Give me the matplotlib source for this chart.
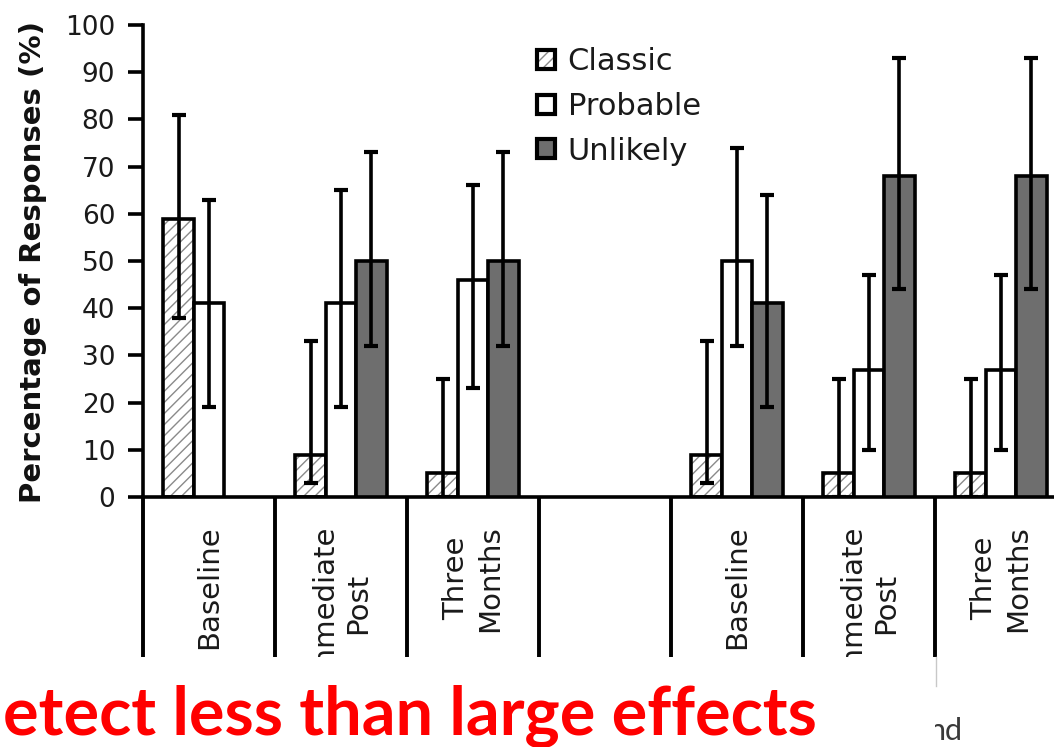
import numpy as np
import matplotlib
matplotlib.use("Agg")
import matplotlib.pyplot as plt
import matplotlib.transforms as mtransforms
from matplotlib.patches import Patch, Rectangle
from matplotlib.lines import Line2D

# ---------------- data ----------------
groups = ["Baseline", "Immediate\nPost", "Three\nMonths", "",
          "Baseline", "Immediate\nPost", "Three\nMonths"]
series = ["Classic", "Probable", "Unlikely"]

classic = [59, 9, 5, np.nan, 9, 5, 5]
classic_lo = [38, 3, 0, np.nan, 3, 0, 0]
classic_hi = [81, 33, 25, np.nan, 33, 25, 25]

probable = [41, 41, 46, np.nan, 50, 27, 27]
probable_lo = [19, 19, 23, np.nan, 32, 10, 10]
probable_hi = [63, 65, 66, np.nan, 74, 47, 47]

unlikely = [np.nan, 50, 50, np.nan, 41, 68, 68]
unlikely_lo = [np.nan, 32, 32, np.nan, 19, 44, 44]
unlikely_hi = [np.nan, 73, 73, np.nan, 64, 93, 93]

yticks = list(range(0, 101, 10))
ylabel = "Percentage of Responses (%)"
caption = "etect less than large effects"
fragment = "nd"

# ---------------- layout ----------------
W, H = 1054, 747
fig = plt.figure(figsize=(W / 100, H / 100), dpi=100)
fig.patch.set_facecolor("white")

ax_left, ax_bottom, ax_top = 143, 497, 25
group_px = 132.0
ax = fig.add_axes([ax_left / W, 1 - ax_bottom / H, (W - ax_left) / W,
                   (ax_bottom - ax_top) / H])
ax.set_ylim(0, 100)
ax.set_xlim(0, (W - ax_left) / group_px)

bw = 0.231
offsets = [-bw, 0.0, bw]
unlikely_color = "#6e6e6e"
hatch_color = "#8a8a8a"
lw_bar = 2.6

vals = [classic, probable, unlikely]
los = [classic_lo, probable_lo, unlikely_lo]
his = [classic_hi, probable_hi, unlikely_hi]

for s, (v, lo, hi) in enumerate(zip(vals, los, his)):
    v = np.asarray(v, float)
    lo = np.asarray(lo, float)
    hi = np.asarray(hi, float)
    m = ~np.isnan(v)
    x = np.arange(len(groups))[m] + 0.5 + offsets[s]
    if s == 0:
        ax.bar(x, v[m], width=bw, color="white", edgecolor=hatch_color,
               linewidth=0, hatch="///", zorder=2)
        ax.bar(x, v[m], width=bw, fill=False, edgecolor="black",
               linewidth=lw_bar, zorder=3)
    elif s == 1:
        ax.bar(x, v[m], width=bw, color="white", edgecolor="black",
               linewidth=lw_bar, zorder=3)
    else:
        ax.bar(x, v[m], width=bw, color=unlikely_color, edgecolor="black",
               linewidth=lw_bar, zorder=3)
    ax.errorbar(x, v[m], yerr=[v[m] - lo[m], hi[m] - v[m]], fmt="none",
                ecolor="black", elinewidth=2.6, capsize=5.2, capthick=3.0,
                zorder=4)

# axes styling
for sp in ["top", "right"]:
    ax.spines[sp].set_visible(False)
ax.spines["left"].set_linewidth(2.6)
ax.spines["bottom"].set_linewidth(2.6)
ax.set_xticks([])
ax.set_yticks(yticks)
ax.tick_params(axis="y", direction="out", length=11, width=2.6,
               labelsize=19, pad=9, colors="black")
for t in ax.get_yticklabels():
    t.set_color("#1a1a1a")

ax.set_ylabel(ylabel, fontsize=21, fontweight="bold", color="#111111")
ax.yaxis.set_label_coords((33 - ax_left) / (W - ax_left),
                          (ax_bottom - 262) / (ax_bottom - ax_top))
ax.yaxis.label.set_va("center")

# separators and category labels below the axis
trans = mtransforms.blended_transform_factory(ax.transData, ax.transAxes)
axh = float(ax_bottom - ax_top)
sep_bottom = -(657 - ax_bottom) / axh
for k in range(len(groups)):
    ax.plot([k, k], [0, sep_bottom], transform=trans, color="black",
            lw=2.8, clip_on=False, solid_capstyle="butt", zorder=5)
    if groups[k]:
        ax.text(k + 0.5, -(525 - ax_bottom) / axh, groups[k], transform=trans,
                rotation=90, ha="center", va="top", multialignment="center",
                fontsize=21, linespacing=1.25, clip_on=False, color="#1a1a1a")

# legend
h_classic = (Patch(facecolor="white", edgecolor=hatch_color, hatch="///",
                   linewidth=0),
             Patch(facecolor="none", edgecolor="black", linewidth=3.0))
h_prob = Patch(facecolor="white", edgecolor="black", linewidth=3.0)
h_unl = Patch(facecolor=unlikely_color, edgecolor="black", linewidth=3.0)
leg = ax.legend([h_classic, h_prob, h_unl], series, loc="upper left",
                bbox_to_anchor=(537 / W, 1 - 47 / H),
                bbox_transform=fig.transFigure, frameon=False,
                fontsize=22, handlelength=0.58, handleheight=0.58,
                handletextpad=0.42, labelspacing=0.52, borderpad=0,
                borderaxespad=0)
for t in leg.get_texts():
    t.set_color("#1a1a1a")

# slide overlay parts
fig.text(929 / W, 1 - 740 / H, fragment, fontsize=22, color="#3a3a3a",
         family=["Lato", "DejaVu Sans"], va="baseline", ha="left", zorder=4)
fig.add_artist(Rectangle((0, 0), 935 / W, 1 - 657 / H,
                         transform=fig.transFigure, facecolor="white",
                         edgecolor="none", zorder=5))
fig.add_artist(Line2D([936 / W, 936 / W], [1 - 657 / H, 1 - 686 / H],
                      transform=fig.transFigure, color="#c8c8c8", lw=1,
                      zorder=5))
fig.text(3 / W, 1 - 735 / H, caption, ha="left", va="baseline",
         color="#FF0000", fontsize=48, fontweight="bold",
         family=["Lato", "DejaVu Sans"], zorder=6)

fig.savefig("out.png", dpi=100, facecolor="white")
